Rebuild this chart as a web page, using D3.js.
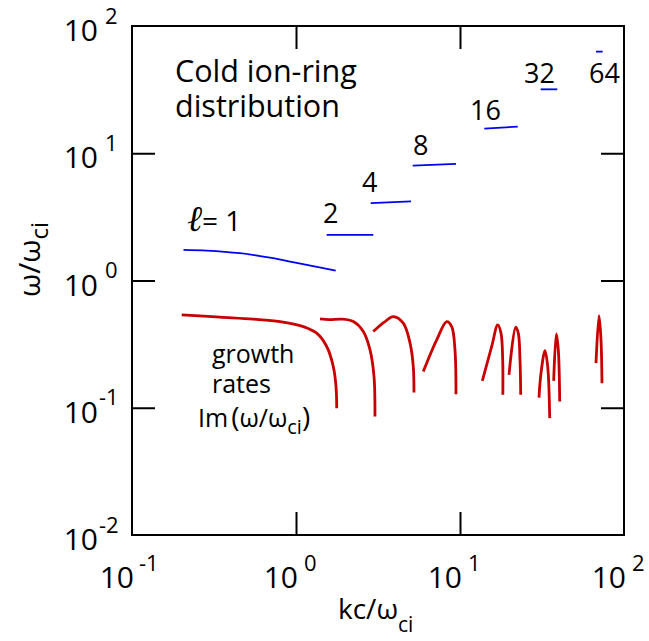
<!DOCTYPE html>
<html><head><meta charset="utf-8">
<script src="https://cdn.jsdelivr.net/npm/d3@7"></script>
<style>
body{margin:0;background:#fff}
svg{display:block}
text{font-family:"Open Sans",sans-serif;fill:#000}
</style>
</head><body>
<svg id="chart" width="649" height="641"></svg>
<script>
// ---- data ----
const xTickExps = [-1, 0, 1, 2];
const yTickExps = [-2, -1, 0, 1, 2];
const xInnerTicks = [1, 10];
const yInnerTicks = [0.1, 1, 10];
const modeLabels = ["2", "4", "8", "16", "32", "64"];

// real frequency branches (blue): [k c/omega_ci, omega/omega_ci]
const realL1  = [[0.206,1.74],[0.2855,1.718],[0.4556,1.638],[0.727,1.497],[0.919,1.408],[1.162,1.326],[1.746,1.197]];
const realL2  = [[1.538,2.28],[2.96,2.28]];
const realL4  = [[2.855,4.05],[5.03,4.18]];
const realL8  = [[5.15,8.0],[9.45,8.25]];
const realL16 = [[14.06,15.6],[22.5,16.2]];
const realL32 = [[31.05,31.8],[39.2,31.8]];
const realL64 = [[67.5,62.9],[74.1,62.9]];
const realBranches = [realL1, realL2, realL4, realL8, realL16, realL32, realL64];

// growth rates (red): [k c/omega_ci, Im(omega/omega_ci)]
const growth1 = [[0.201,0.537],[0.344,0.515],[0.549,0.497],[0.799,0.4755],[1.108,0.4345],[1.337,0.3855],[1.539,0.303],[1.688,0.2107],[1.754,0.1467],[1.771,0.0993]];
const growth2 = [[1.401,0.499],[1.6,0.492],[1.9,0.497],[2.236,0.4755],[2.573,0.3968],[2.827,0.285],[2.99,0.1758],[3.03,0.0853]];
const growth3 = [[2.96,0.397],[3.45,0.47],[3.92,0.5205],[4.51,0.462],[4.96,0.3218],[5.19,0.2107],[5.24,0.1316]];
const growth4 = [[5.97,0.1925],[7.21,0.3416],[8.30,0.4755],[8.90,0.4345],[9.32,0.285],[9.45,0.1279]];
const growth5 = [[13.68,0.1627],[15.61,0.303],[16.98,0.448],[17.78,0.3855],[18.21,0.2378],[18.25,0.1263]];
const growth6 = [[19.9,0.1813],[21.86,0.4296],[22.67,0.3855],[23.22,0.2378],[23.45,0.1263]];
const growth7 = [[30.32,0.1202],[31.18,0.187],[32.98,0.2813],[34.26,0.2107],[35.24,0.0829]];
const growth8 = [[37.26,0.1627],[38.66,0.3805],[39.76,0.285],[40.55,0.1119]];
const growth9 = [[67.5,0.224],[70.4,0.530],[72.4,0.3416],[73.4,0.156]];
const growthBranches = [growth1, growth2, growth3, growth4, growth5, growth6, growth7, growth8, growth9];

// ---- layout ----
const svg = d3.select("#chart");
const L = 132, R = 624, T = 26, B = 535;
const x = d3.scaleLog().domain([0.1, 100]).range([L, R]);
const y = d3.scaleLog().domain([0.01, 100]).range([B, T]);
const TICK = 23;

// ticks via d3 axes (inward)
svg.append("g").attr("transform", `translate(0,${B})`)
  .call(d3.axisBottom(x).tickValues(xInnerTicks).tickSizeInner(-TICK).tickSizeOuter(0).tickFormat(""))
  .call(g => g.select(".domain").remove());
svg.append("g").attr("transform", `translate(0,${T})`)
  .call(d3.axisTop(x).tickValues(xInnerTicks).tickSizeInner(-TICK).tickSizeOuter(0).tickFormat(""))
  .call(g => g.select(".domain").remove());
svg.append("g").attr("transform", `translate(${L},0)`)
  .call(d3.axisLeft(y).tickValues(yInnerTicks).tickSizeInner(-TICK).tickSizeOuter(0).tickFormat(""))
  .call(g => g.select(".domain").remove());
svg.append("g").attr("transform", `translate(${R},0)`)
  .call(d3.axisRight(y).tickValues(yInnerTicks).tickSizeInner(-TICK).tickSizeOuter(0).tickFormat(""))
  .call(g => g.select(".domain").remove());
svg.selectAll(".tick line").attr("stroke", "#000").attr("stroke-width", 2);

// frame
svg.append("rect").attr("x", L).attr("y", T).attr("width", R - L).attr("height", B - T)
  .attr("fill", "none").attr("stroke", "#000").attr("stroke-width", 2);

// tick labels
const xl = svg.append("g");
xTickExps.forEach(e => {
  const px = x(Math.pow(10, e));
  xl.append("text").attr("x", px + 2).attr("y", 588).attr("text-anchor", "end")
    .style("font-size", "30px").text("10");
  xl.append("text").attr("x", px + (e < 0 ? 7 : 8)).attr("y", 571)
    .style("font-size", "22px").text(String(e));
});
const yl = svg.append("g");
yTickExps.forEach(e => {
  const py = y(Math.pow(10, e));
  yl.append("text").attr("x", 98).attr("y", py + 15).attr("text-anchor", "end")
    .style("font-size", "30px").text("10");
  yl.append("text").attr("x", e < 0 ? 99 : 105).attr("y", py - 2.5)
    .style("font-size", "22px").text(String(e));
});

// axis titles
const xt = svg.append("text").attr("x", 338).attr("y", 619).style("font-size", "28px");
xt.append("tspan").text("kc/ω");
xt.append("tspan").attr("dy", 13).style("font-size", "21px").text("ci");

const yt = svg.append("text").attr("transform", "translate(40,222) rotate(-90)")
  .attr("text-anchor", "end").style("font-size", "30px");
yt.append("tspan").text("ω/ω");
yt.append("tspan").attr("dy", 8).style("font-size", "24px").text("ci");

// lines
const line = d3.line().x(d => x(d[0])).y(d => y(d[1])).curve(d3.curveCatmullRom.alpha(0.5));
svg.append("g").selectAll("path").data(realBranches).join("path")
  .attr("d", line).attr("fill", "none").attr("stroke", "#0000f0").attr("stroke-width", 1.8);
svg.append("g").selectAll("path").data(growthBranches).join("path")
  .attr("d", line).attr("fill", "none").attr("stroke", "#c80000").attr("stroke-width", 2.8)
  .attr("stroke-linecap", "butt");

// annotations
svg.append("text").attr("x", 175).attr("y", 82).style("font-size", "30.5px").text("Cold ion-ring");
svg.append("text").attr("x", 175).attr("y", 117).style("font-size", "30.5px").text("distribution");

const ell = svg.append("text").attr("x", 187).attr("y", 231).style("font-size", "28px");
ell.append("tspan").style("font-style", "italic").style("font-family", "DejaVu Serif").style("font-size", "36px").text("ℓ");
ell.append("tspan").text("= 1");

const modePos = [[323,223],[362,192],[413,155],[470,120],[524,83],[589,83]];
modeLabels.forEach((t, i) => {
  svg.append("text").attr("x", modePos[i][0]).attr("y", modePos[i][1]).style("font-size", "27px").text(t);
});

svg.append("text").attr("x", 212).attr("y", 363).style("font-size", "25px").text("growth");
svg.append("text").attr("x", 212).attr("y", 393).style("font-size", "25px").text("rates");
const im = svg.append("text").attr("x", 198).attr("y", 427).style("font-size", "25px");
im.append("tspan").text("Im");
im.append("tspan").attr("dx", 3).style("font-size", "28px").text("(");
im.append("tspan").text("ω/ω");
im.append("tspan").attr("dy", 7).style("font-size", "20px").text("ci");
im.append("tspan").attr("dy", -7).style("font-size", "28px").text(")");
</script>
</body></html>
